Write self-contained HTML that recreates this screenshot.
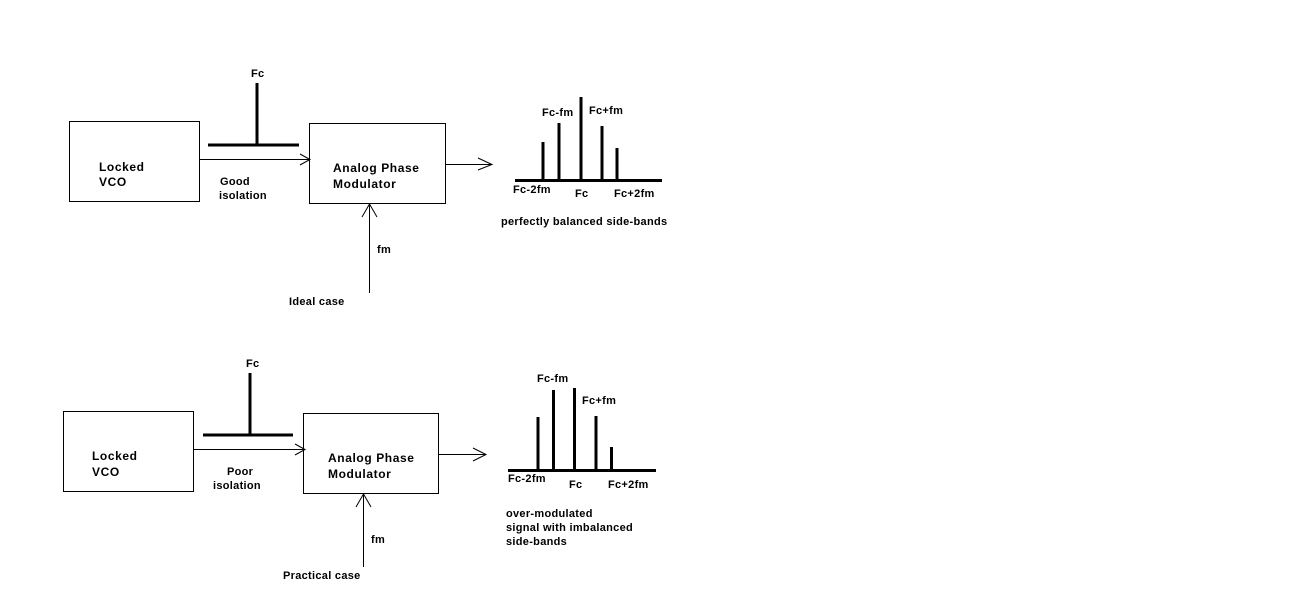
<!DOCTYPE html>
<html>
<head>
<meta charset="utf-8">
<style>
  html, body { margin: 0; padding: 0; background: #fff; }
  body { width: 1298px; height: 609px; overflow: hidden; }
  svg { display: block; }
  text { font-family: "Liberation Sans", Arial, sans-serif; font-weight: bold; fill: #000; }
  .b { font-size: 12px; letter-spacing: 0.6px; }
  .s { font-size: 11px; letter-spacing: 0.3px; }
</style>
</head>
<body>
<svg width="1298" height="609" viewBox="0 0 1298 609" xmlns="http://www.w3.org/2000/svg">
  <rect x="0" y="0" width="1298" height="609" fill="#fff"/>

  <!-- ===== TOP DIAGRAM (Ideal case) ===== -->
  <g stroke="#000" fill="none" stroke-width="1">
    <rect x="69.5" y="121.5" width="130" height="80"/>
    <rect x="309.5" y="123.5" width="136" height="80"/>
    <!-- VCO -> Modulator -->
    <line x1="199" y1="159.5" x2="310" y2="159.5"/>
    <polyline points="300,154 310,159.5 300,165"/>
    <!-- output arrow -->
    <line x1="446" y1="164.5" x2="492" y2="164.5"/>
    <polyline points="478,158 492,164.5 478,170"/>
    <!-- fm arrow -->
    <line x1="369.5" y1="293" x2="369.5" y2="204"/>
    <polyline points="362,217 369.5,204 377,217"/>
  </g>
  <!-- Fc carrier -->
  <g stroke="#000" stroke-width="3" fill="none">
    <line x1="208" y1="145" x2="299" y2="145"/>
    <line x1="257" y1="83" x2="257" y2="146"/>
  </g>
  <text class="s" x="251" y="77">Fc</text>
  <text class="b" x="99" y="171">Locked</text>
  <text class="b" x="99" y="186">VCO</text>
  <text class="b" x="333" y="172">Analog Phase</text>
  <text class="b" x="333" y="188">Modulator</text>
  <text class="s" x="220" y="185">Good</text>
  <text class="s" x="219" y="199">isolation</text>
  <text class="s" x="377" y="253">fm</text>
  <text class="s" x="289" y="305">Ideal case</text>

  <!-- top spectrum -->
  <g stroke="#000" stroke-width="3" fill="none">
    <line x1="515" y1="180.5" x2="662" y2="180.5"/>
    <line x1="543" y1="142" x2="543" y2="181"/>
    <line x1="559" y1="123" x2="559" y2="181"/>
    <line x1="581" y1="97" x2="581" y2="181"/>
    <line x1="602" y1="126" x2="602" y2="182"/>
    <line x1="617" y1="148" x2="617" y2="181"/>
  </g>
  <text class="s" x="542" y="116">Fc-fm</text>
  <text class="s" x="589" y="114">Fc+fm</text>
  <text class="s" x="513" y="193">Fc-2fm</text>
  <text class="s" x="575" y="197">Fc</text>
  <text class="s" x="614" y="197">Fc+2fm</text>
  <text class="s" x="501" y="225">perfectly balanced side-bands</text>

  <!-- ===== BOTTOM DIAGRAM (Practical case) ===== -->
  <g stroke="#000" fill="none" stroke-width="1">
    <rect x="63.5" y="411.5" width="130" height="80"/>
    <rect x="303.5" y="413.5" width="135" height="80"/>
    <line x1="193" y1="449.5" x2="305" y2="449.5"/>
    <polyline points="295,444 305,449.5 295,455"/>
    <line x1="438" y1="454.5" x2="486" y2="454.5"/>
    <polyline points="473,448 486,454.5 473,461"/>
    <line x1="363.5" y1="567" x2="363.5" y2="494"/>
    <polyline points="356,507 363.5,494 371,507"/>
  </g>
  <g stroke="#000" stroke-width="3" fill="none">
    <line x1="203" y1="435" x2="293" y2="435"/>
    <line x1="250" y1="373" x2="250" y2="436"/>
  </g>
  <text class="s" x="246" y="367">Fc</text>
  <text class="b" x="92" y="460">Locked</text>
  <text class="b" x="92" y="476">VCO</text>
  <text class="b" x="328" y="462">Analog Phase</text>
  <text class="b" x="328" y="478">Modulator</text>
  <text class="s" x="227" y="475">Poor</text>
  <text class="s" x="213" y="489">isolation</text>
  <text class="s" x="371" y="543">fm</text>
  <text class="s" x="283" y="579">Practical case</text>

  <!-- bottom spectrum -->
  <g stroke="#000" stroke-width="3" fill="none">
    <line x1="508" y1="470.5" x2="656" y2="470.5"/>
    <line x1="538" y1="417" x2="538" y2="471"/>
    <line x1="553.5" y1="390" x2="553.5" y2="471"/>
    <line x1="574.5" y1="388" x2="574.5" y2="471"/>
    <line x1="596" y1="416" x2="596" y2="472"/>
    <line x1="611.5" y1="447" x2="611.5" y2="471"/>
  </g>
  <text class="s" x="537" y="382">Fc-fm</text>
  <text class="s" x="582" y="404">Fc+fm</text>
  <text class="s" x="508" y="482">Fc-2fm</text>
  <text class="s" x="569" y="488">Fc</text>
  <text class="s" x="608" y="488">Fc+2fm</text>
  <text class="s" x="506" y="517">over-modulated</text>
  <text class="s" x="506" y="531">signal with imbalanced</text>
  <text class="s" x="506" y="545">side-bands</text>
</svg>
</body>
</html>
